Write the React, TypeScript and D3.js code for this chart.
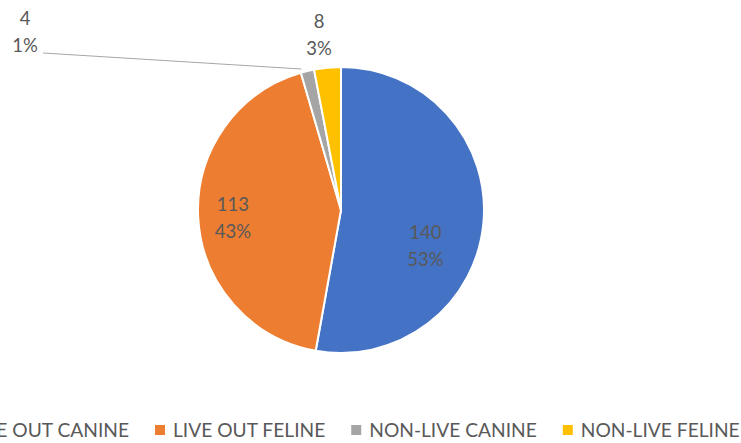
import React, { useEffect, useRef } from "react";
import * as d3 from "d3";

const categories = ["LIVE OUT CANINE", "LIVE OUT FELINE", "NON-LIVE CANINE", "NON-LIVE FELINE"];
const counts = [140, 113, 4, 8];
const percentLabels = ["53%", "43%", "1%", "3%"];
const colors = ["#4472C4", "#ED7D31", "#A5A5A5", "#FFC000"];

const App: React.FC = () => {
  const svgRef = useRef<SVGSVGElement | null>(null);

  useEffect(() => {
    if (!svgRef.current) return;
    document.body.style.margin = "0";
    const svg = d3.select(svgRef.current);
    svg.selectAll("*").remove();

    const width = 741;
    const height = 443;
    const cx = 341;
    const cy = 210;
    const radius = 143;
    const font = "Lato, 'Open Sans', sans-serif";
    const textColor = "#595959";

    svg.attr("width", width).attr("height", height).style("display", "block");

    const pie = d3
      .pie<number>()
      .sort(null)
      .value((d) => d);
    const arcs = pie(counts);
    const arc = d3.arc<d3.PieArcDatum<number>>().innerRadius(0).outerRadius(radius);

    const g = svg.append("g").attr("transform", `translate(${cx},${cy})`);

    g.selectAll("path")
      .data(arcs)
      .enter()
      .append("path")
      .attr("d", arc)
      .attr("fill", (_, i) => colors[i])
      .attr("stroke", "#fff")
      .attr("stroke-width", 2)
      .attr("stroke-linejoin", "round");

    // label placement: inside labels from centroid, outside ones pulled away
    const labelArc = (r: number) =>
      d3.arc<d3.PieArcDatum<number>>().innerRadius(r).outerRadius(r);
    const labelPos: [number, number][] = arcs.map((a, i) => {
      if (i === 0) {
        const [x, y] = labelArc(radius * 0.6).centroid(a);
        return [x - 1, y + 27];
      }
      if (i === 1) {
        const [x, y] = labelArc(radius * 0.75).centroid(a);
        return [x - 1, y + 1];
      }
      if (i === 2) return [-316, -179];
      const [x, y] = labelArc(radius * 1.25).centroid(a);
      return [x - 5, y + 2];
    });

    // leader line for the small grey slice
    const greyOuter = labelArc(radius).centroid(arcs[2]);
    g.append("polyline")
      .attr(
        "points",
        [
          [labelPos[2][0] + 18, labelPos[2][1] + 22],
          [greyOuter[0] - 6, greyOuter[1] - 2],
        ]
          .map((p) => p.join(","))
          .join(" ")
      )
      .attr("fill", "none")
      .attr("stroke", "#A6A6A6")
      .attr("stroke-width", 1);

    const labels = g
      .selectAll("g.label")
      .data(arcs)
      .enter()
      .append("g")
      .attr("class", "label")
      .attr("transform", (_, i) => `translate(${labelPos[i][0]},${labelPos[i][1]})`)
      .attr("font-family", font)
      .attr("font-size", 18.5)
      .attr("fill", textColor)
      .attr("text-anchor", "middle");

    labels
      .append("text")
      .attr("y", -6)
      .text((d) => String(d.data));
    labels
      .append("text")
      .attr("y", 21)
      .text((_, i) => percentLabels[i]);

    // legend, laid out from the measured text widths
    const legend = svg
      .append("g")
      .attr("font-family", font)
      .attr("font-size", 19.2)
      .attr("fill", textColor);
    const items = legend
      .selectAll("g")
      .data(categories)
      .enter()
      .append("g");
    items
      .append("rect")
      .attr("x", 0)
      .attr("y", -5)
      .attr("width", 10)
      .attr("height", 10)
      .attr("fill", (_, i) => colors[i]);
    const texts = items
      .append("text")
      .attr("x", 18)
      .attr("y", 7)
      .text((d) => d);

    const widths = texts.nodes().map((n) => (n as SVGTextElement).getComputedTextLength());
    const xs: number[] = [];
    let x = 155 - (18 + widths[0] + 26);
    widths.forEach((w) => {
      xs.push(x);
      x += 18 + w + 26;
    });
    items.attr("transform", (_, i) => `translate(${xs[i]},430)`);
  }, []);

  return <svg ref={svgRef}></svg>;
};

export default App;
